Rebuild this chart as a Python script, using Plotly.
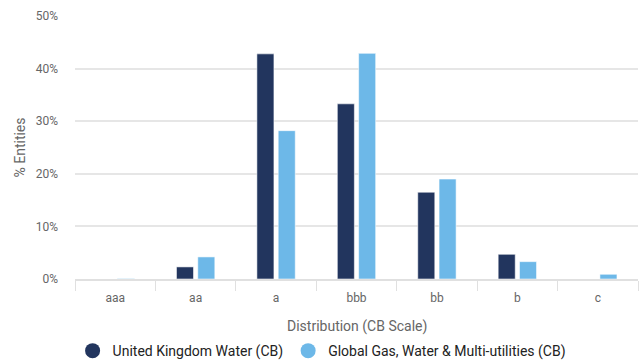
import plotly.graph_objects as go

categories = ["aaa", "aa", "a", "bbb", "bb", "b", "c"]
uk_water = [0.0, 2.3, 42.8, 33.3, 16.5, 4.7, 0.0]
global_utilities = [0.1, 4.2, 28.2, 42.9, 19.0, 3.3, 0.9]
series_names = ["United Kingdom Water (CB)", "Global Gas, Water & Multi-utilities (CB)"]
series_colors = ["#22355e", "#6db8e8"]
y_ticks = [0, 10, 20, 30, 40, 50]

fig = go.Figure()
for name, vals, color in zip(series_names, [uk_water, global_utilities], series_colors):
    fig.add_trace(go.Bar(
        x=categories, y=vals, name=name, showlegend=False,
        marker=dict(color=color, line=dict(color="rgba(255,255,255,0.55)", width=1)),
    ))
# circular legend markers
for name, color in zip(series_names, series_colors):
    fig.add_trace(go.Scatter(
        x=[None], y=[None], mode="markers", name=name,
        marker=dict(symbol="circle", size=15, color=color),
    ))

font = "Roboto, 'Open Sans', sans-serif"
fig.update_layout(
    width=640, height=361,
    margin=dict(l=75, r=2, t=16, b=82, autoexpand=False),
    plot_bgcolor="white", paper_bgcolor="white",
    barmode="group", bargap=0.47, bargroupgap=0.2,
    font=dict(family=font, color="#666666", size=12),
    showlegend=True,
    legend=dict(orientation="h", x=0.438, xanchor="center",
                y=-0.274, yanchor="middle",
                font=dict(size=14, color="#222222"), itemwidth=30, itemsizing="trace"),
    xaxis=dict(
        tickson="boundaries", ticks="outside", ticklen=10, tickcolor="#e0e0e0",
        showline=True, linecolor="#e0e0e0", linewidth=2,
        tickfont=dict(size=12, color="#666666"), ticklabelstandoff=7,
    ),
    yaxis=dict(
        title=dict(text="% Entities", font=dict(size=14, color="#666666"), standoff=6),
        range=[0, 50], tickvals=y_ticks, ticktext=[f"{v}%" for v in y_ticks],
        showgrid=True, gridcolor="#e6e6e6", gridwidth=2, zeroline=False,
        tickfont=dict(size=12, color="#666666"), ticks="", ticklabelstandoff=16,
    ),
    annotations=[dict(
        text="Distribution (CB Scale)", xref="paper", yref="paper",
        x=0.5, y=-0.179, xanchor="center", yanchor="middle", showarrow=False,
        font=dict(size=14, color="#666666"),
    )],
)

fig.write_html("out.html")
